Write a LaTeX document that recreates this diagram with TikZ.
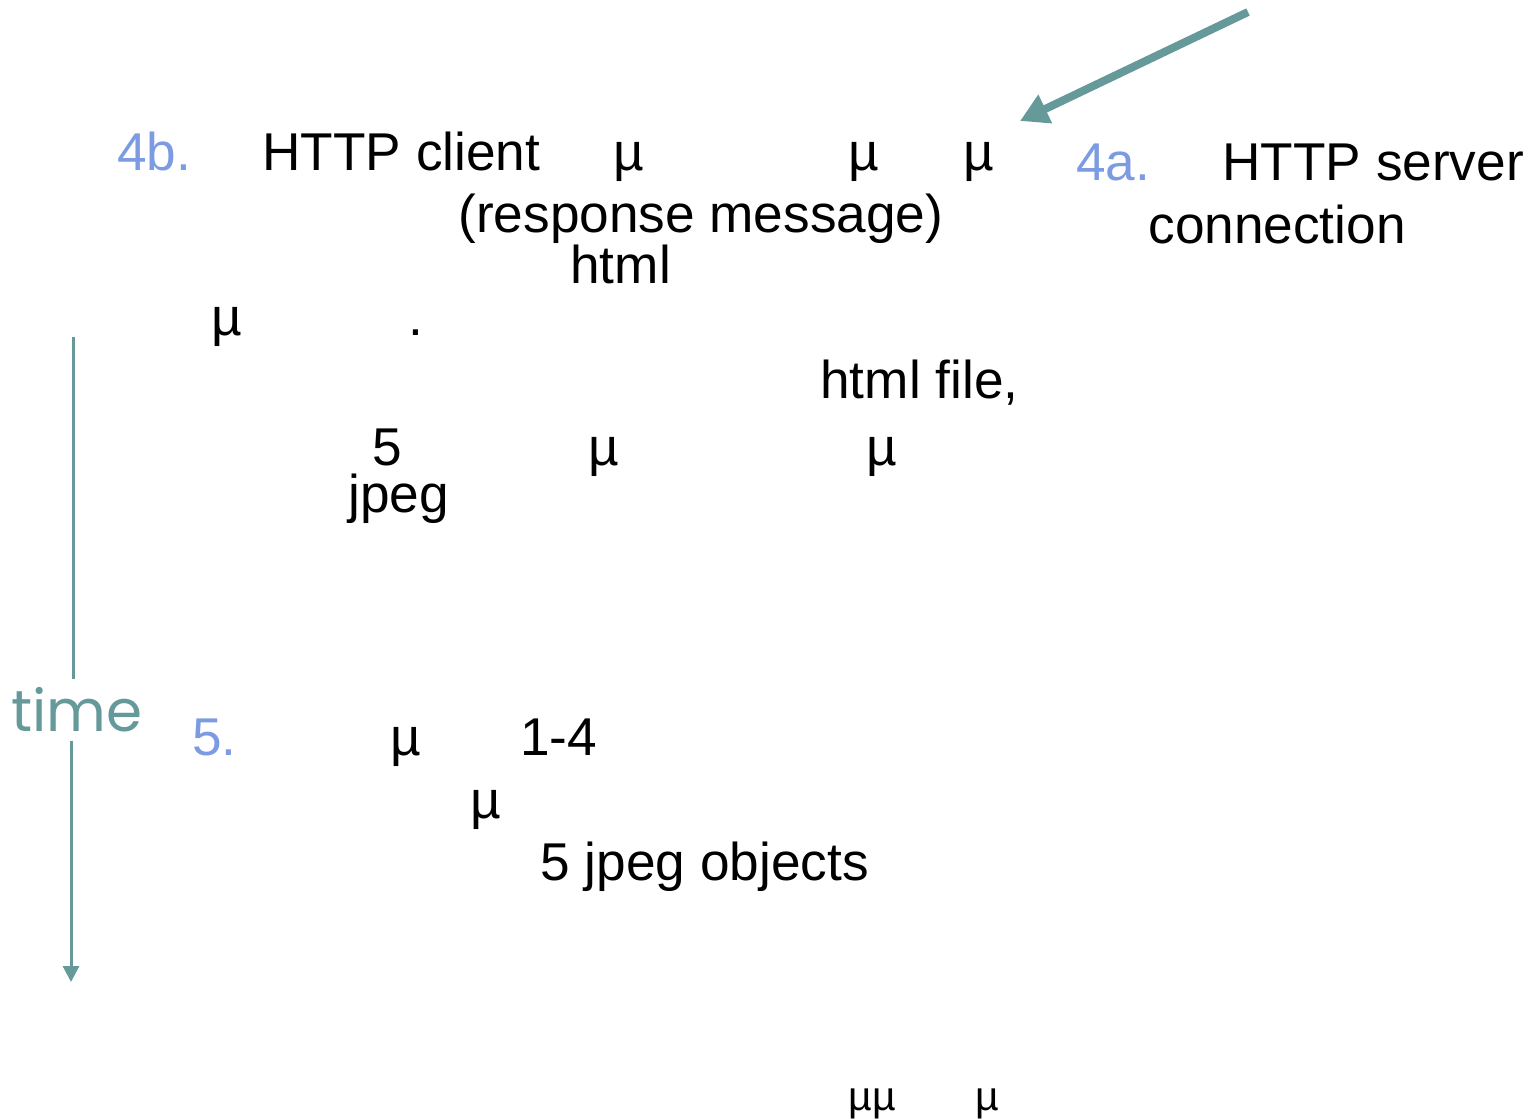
\documentclass[tikz,border=0pt]{standalone}
\usepackage{fontspec}
\setmainfont{Liberation Sans}
\newfontfamily\timefont{Poppins}
\usetikzlibrary{arrows.meta, positioning}
\definecolor{httpteal}{HTML}{669999}
\definecolor{httpblue}{HTML}{7C9BE2}

\begin{document}
\begin{tikzpicture}[x=0.5pt, y=-0.5pt,
    txt/.style={anchor=base west, inner sep=0pt, font=\fontsize{26.6}{30}\selectfont},
    stepnum/.style={txt, text=httpblue},
    small/.style={anchor=base west, inner sep=0pt, font=\fontsize{20.5}{24}\selectfont},
    arrow/.style={-{Triangle[length=14pt, width=15pt]}, line width=4pt, color=httpteal},
    timeline/.style={-{Triangle[length=8pt, width=8pt]}, line width=1.5pt, color=httpteal}
]
\useasboundingbox (0,0) rectangle (1529,1119);

% Step 4a / 4b
\node[stepnum] (s4b) at (117,170) {4b.};
\node[txt] (client) at (262,170) {HTTP client};
\node[txt] (mua) at (613,170) {µ};
\node[txt] (mub) at (848,170) {µ};
\node[txt] (muc) at (963,170) {µ};
\node[stepnum] (s4a) at (1076,180) {4a.};
\node[txt] (server) at (1222,180) {HTTP server};
\node[txt] (resp) at (458,232) {(response message)};
\node[txt] (conn) at (1148,243) {connection};
\node[txt] (html) at (570,283) {html};
\node[txt] (mud) at (211,335) {µ};
\node[txt] (dot) at (408,335) {.};
\node[txt] (file) at (820,398) {html file,};
\node[txt] (five) at (372,465) {5};
\node[txt] (mue) at (588,465) {µ};
\node[txt] (muf) at (866,465) {µ};
\node[txt] (jpeg) at (348,512) {jpeg};

% Step 5
\node[stepnum] (s5) at (192,755) {5.};
\node[txt] (mug) at (390,755) {µ};
\node[txt] (range) at (520,755) {1-4};
\node[txt] (muh) at (470,818) {µ};
\node[txt] (objs) at (540,880) {5 jpeg objects};
\node[small] (mui) at (848,1110) {µµ};
\node[small] (muj) at (975,1110) {µ};

% Arrows
\coordinate (tail) at (1248,12);
\coordinate (head) at (1020,121);
\draw[arrow] (tail) -- (head);

\coordinate (ttop) at (73,337);
\coordinate (tbot) at (71,982);
\node[font=\timefont\fontsize{29}{32}\selectfont, text=httpteal, inner xsep=0pt, inner ysep=4pt] (time) at (77,710) {time};
\draw[line width=1.5pt, color=httpteal] (ttop) -- (ttop |- time.north);
\draw[timeline] (tbot |- time.south) -- (tbot);

\end{tikzpicture}
\end{document}
